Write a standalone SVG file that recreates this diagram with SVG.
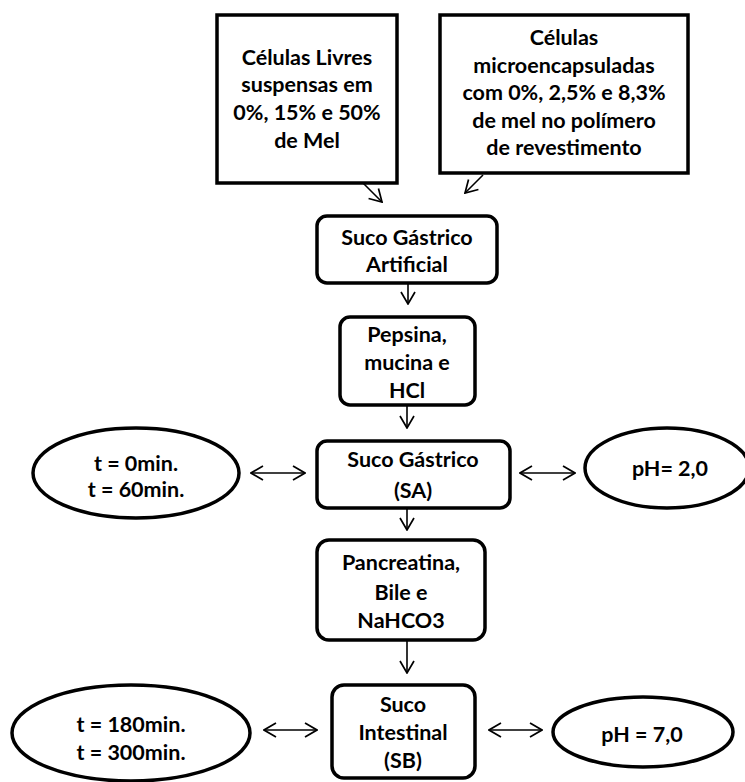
<svg xmlns="http://www.w3.org/2000/svg" width="745" height="782" viewBox="0 0 745 782">
<defs>
<style>
.box{fill:#fff;stroke:#000;stroke-width:3.5}
.t{font-family:Lato,"Open Sans","Liberation Sans",sans-serif;font-weight:bold;font-size:21.5px;fill:#000;text-anchor:middle}
.c{stroke:#000;stroke-width:1.6;fill:none}
</style>
<marker id="ah" viewBox="0 0 14 16" refX="13" refY="8" markerWidth="14" markerHeight="16" markerUnits="userSpaceOnUse" orient="auto-start-reverse">
<path d="M1,1 L13,8 L1,15" fill="none" stroke="#000" stroke-width="1.7"/>
</marker>
</defs>
<rect width="745" height="782" fill="#fff"/>
<g id="n1">
<rect class="box" x="217" y="15" width="180" height="168"/>
<text class="t" x="307" y="65">Células Livres</text>
<text class="t" x="307" y="92">suspensas em</text>
<text class="t" x="307" y="120">0%, 15% e 50%</text>
<text class="t" x="307" y="148">de Mel</text>
</g>
<g id="n2">
<rect class="box" x="440" y="15" width="248" height="158"/>
<text class="t" x="564" y="45">Células</text>
<text class="t" x="564" y="73">microencapsuladas</text>
<text class="t" x="564" y="100">com 0%, 2,5% e 8,3%</text>
<text class="t" x="564" y="128">de mel no polímero</text>
<text class="t" x="564" y="155">de revestimento</text>
</g>
<g id="n3">
<rect class="box" x="317" y="216" width="180" height="67" rx="10"/>
<text class="t" x="407" y="245">Suco Gástrico</text>
<text class="t" x="407" y="272">Artificial</text>
</g>
<g id="n4">
<rect class="box" x="340" y="317" width="135" height="88" rx="10"/>
<text class="t" x="407" y="342">Pepsina,</text>
<text class="t" x="407" y="370">mucina e</text>
<text class="t" x="407" y="398">HCl</text>
</g>
<g id="n5">
<rect class="box" x="317" y="441" width="193" height="67" rx="10"/>
<text class="t" x="413" y="467">Suco Gástrico</text>
<text class="t" x="413" y="498">(SA)</text>
</g>
<g id="n6">
<rect class="box" x="317" y="540" width="168" height="100" rx="12"/>
<text class="t" x="401" y="570">Pancreatina,</text>
<text class="t" x="401" y="600">Bile e</text>
<text class="t" x="401" y="628">NaHCO3</text>
</g>
<g id="n7">
<rect class="box" x="332" y="685" width="143" height="93" rx="12"/>
<text class="t" x="403" y="712">Suco</text>
<text class="t" x="403" y="740">Intestinal</text>
<text class="t" x="403" y="768">(SB)</text>
</g>
<g id="e1">
<ellipse class="box" cx="136" cy="473" rx="103" ry="45"/>
<text class="t" x="136" y="471">t = 0min.</text>
<text class="t" x="136" y="497">t = 60min.</text>
</g>
<g id="e2">
<ellipse class="box" cx="667" cy="468" rx="82" ry="40"/>
<text class="t" x="670" y="476">pH= 2,0</text>
</g>
<g id="e3">
<ellipse class="box" cx="131" cy="733" rx="119" ry="48"/>
<text class="t" x="131" y="732">t = 180min.</text>
<text class="t" x="131" y="760">t = 300min.</text>
</g>
<g id="e4">
<ellipse class="box" cx="643" cy="732" rx="90" ry="35"/>
<text class="t" x="642" y="742">pH = 7,0</text>
</g>
<g id="connectors">
<line class="c" x1="363" y1="183" x2="382" y2="202" marker-end="url(#ah)"/>
<line class="c" x1="483" y1="175" x2="465" y2="193" marker-end="url(#ah)"/>
<line class="c" x1="408" y1="284" x2="408" y2="304" marker-end="url(#ah)"/>
<line class="c" x1="407" y1="406" x2="407" y2="428" marker-end="url(#ah)"/>
<line class="c" x1="407" y1="509" x2="407" y2="530" marker-end="url(#ah)"/>
<line class="c" x1="407" y1="641" x2="407" y2="673" marker-end="url(#ah)"/>
<line class="c" x1="251" y1="473" x2="305" y2="473" marker-start="url(#ah)" marker-end="url(#ah)"/>
<line class="c" x1="520" y1="473" x2="575" y2="473" marker-start="url(#ah)" marker-end="url(#ah)"/>
<line class="c" x1="264" y1="730" x2="317" y2="730" marker-start="url(#ah)" marker-end="url(#ah)"/>
<line class="c" x1="489" y1="730" x2="542" y2="730" marker-start="url(#ah)" marker-end="url(#ah)"/>
</g>
</svg>
